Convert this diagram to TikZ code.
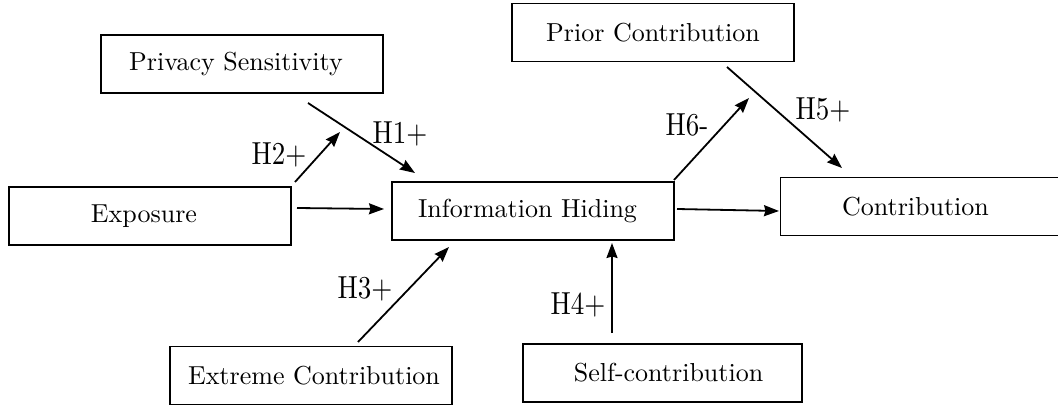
\documentclass[tikz,border=0pt]{standalone}
\usepackage{fontspec}
\newfontfamily\lmten{lmroman10-regular.otf}
\usetikzlibrary{arrows.meta}
\tikzset{
  box/.style={draw=black, line width=1.8pt, minimum width=282pt, minimum height=58pt,
    inner sep=0pt, font=\lmten\fontsize{26}{30}\selectfont},
  conn/.style={line width=1.8pt, -{Stealth[length=15pt,width=11pt,inset=1.5pt]}},
  hyp/.style={font=\lmten\fontsize{27}{30}\selectfont, inner sep=0pt}
}
\newcommand{\hlab}[1]{\scalebox{1}[1.18]{#1}}
\begin{document}
\begin{tikzpicture}[x=1pt,y=-1pt]
\useasboundingbox (0,0) rectangle (1058,409);
% boxes
\node[box] (ps) at (242,64) {\hspace*{-12pt}Privacy Sensitivity};
\node[box] (pc) at (653,32.5) {Prior Contribution};
\node[box] (ex) at (150,216) {\hspace*{-12pt}Exposure};
\node[box] (ih) at (533,211) {\hspace*{-11pt}Information Hiding};
\node[box] (co) at (921.5,206.5) {\hspace*{-12pt}Contribution};
\node[box] (ec) at (311,375.5) {\hspace*{6pt}Extreme Contribution};
\node[box, minimum width=279pt] (sc) at (662.5,373) {\hspace*{12pt}Self-contribution};
% free ends
\coordinate (a1s) at (308,103);
\coordinate (a1e) at (415,173);
\coordinate (a2s) at (295,182);
\coordinate (a2e) at (340,132);
\coordinate (a3s) at (297,208);
\coordinate (a3e) at (384,209);
\coordinate (a4s) at (677,209);
\coordinate (a4e) at (779,211);
\coordinate (a5s) at (674,180);
\coordinate (a5e) at (749,98);
\coordinate (a6s) at (727,67);
\coordinate (a6e) at (842,168);
\coordinate (a7s) at (358,342);
\coordinate (a7e) at (449,247);
\coordinate (a8s) at (612,333);
\coordinate (a8e) at (612,243);
% connectors
\draw[conn] (a1s) -- (a1e);
\draw[conn] (a2s) -- (a2e);
\draw[conn] (a3s) -- (a3e);
\draw[conn] (a4s) -- (a4e);
\draw[conn] (a5s) -- (a5e);
\draw[conn] (a6s) -- (a6e);
\draw[conn] (a7s) -- (a7e);
\draw[conn] (a8s) -- (a8e);
% labels
\node[hyp] (h1) at (400,134) {\hlab{H1+}};
\node[hyp] (h2) at (279,155) {\hlab{H2+}};
\node[hyp] (h3) at (365,289) {\hlab{H3+}};
\node[hyp] (h4) at (578,305) {\hlab{H4+}};
\node[hyp] (h5) at (823,110) {\hlab{H5+}};
\node[hyp] (h6) at (687,125) {\hlab{H6-}};
\end{tikzpicture}
\end{document}
